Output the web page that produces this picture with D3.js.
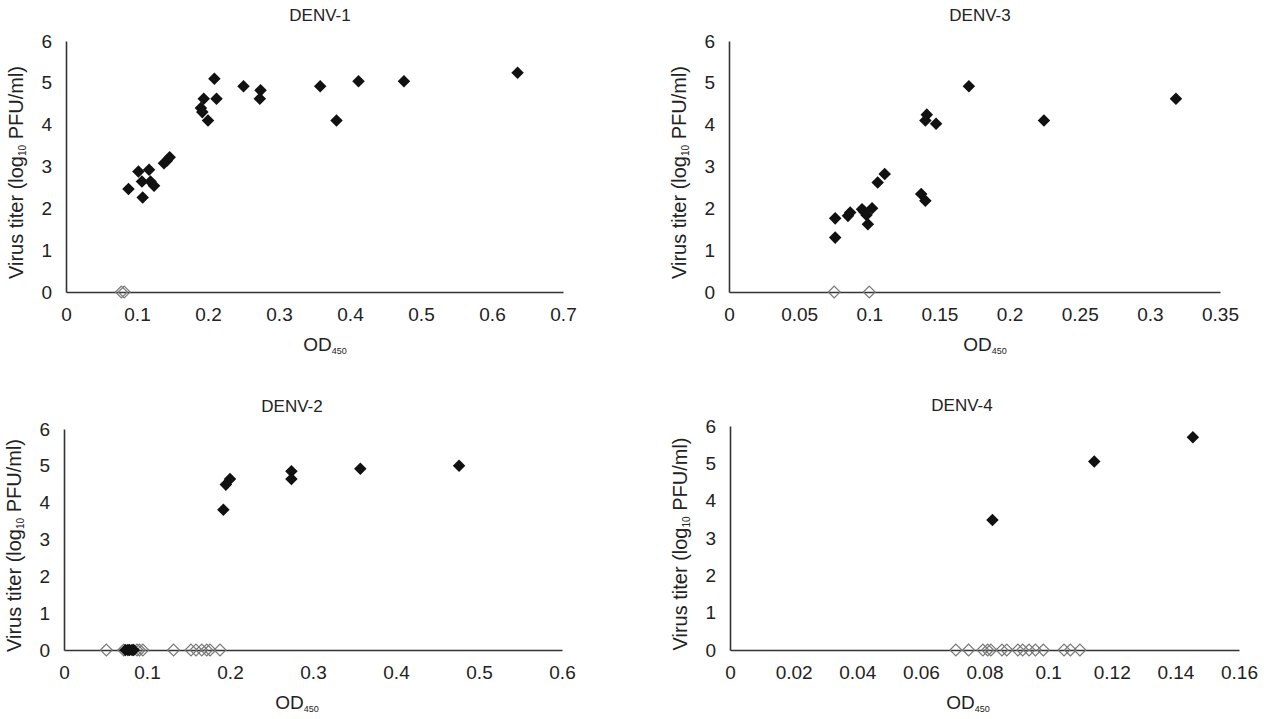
<!DOCTYPE html>
<html>
<head>
<meta charset="utf-8">
<script src="https://cdn.jsdelivr.net/npm/d3@7"></script>
<style>
  body { margin: 0; background: #fff; }
  text { font-family: "Liberation Sans", Arial, sans-serif; fill: #222; }
</style>
</head>
<body>
<svg id="chart" width="1271" height="719"></svg>
<script>
// values: [OD450, log10 PFU/ml]
const denv1Pos = [
  [0.088, 2.46], [0.102, 2.88], [0.117, 2.92], [0.107, 2.64], [0.119, 2.64],
  [0.124, 2.54], [0.108, 2.26], [0.138, 3.08], [0.142, 3.14], [0.146, 3.22],
  [0.194, 4.62], [0.212, 4.62], [0.209, 5.10], [0.190, 4.40], [0.192, 4.30],
  [0.200, 4.10], [0.250, 4.92], [0.274, 4.82], [0.273, 4.62], [0.358, 4.92],
  [0.381, 4.10], [0.412, 5.04], [0.476, 5.04], [0.636, 5.24]
];
const denv1Neg = [[0.078, 0], [0.082, 0]];

const denv3Pos = [
  [0.171, 4.92], [0.3186, 4.62], [0.2245, 4.10], [0.141, 4.24], [0.140, 4.10],
  [0.1476, 4.02], [0.111, 2.82], [0.106, 2.62], [0.137, 2.34], [0.140, 2.18],
  [0.0757, 1.76], [0.0757, 1.30], [0.0848, 1.82], [0.0864, 1.90], [0.0948, 1.98],
  [0.102, 2.00], [0.098, 1.84], [0.099, 1.62], [0.0964, 1.92]
];
const denv3Neg = [[0.075, 0], [0.100, 0]];

const denv2Pos = [
  [0.192, 3.81], [0.195, 4.49], [0.200, 4.64], [0.274, 4.85], [0.274, 4.64],
  [0.357, 4.92], [0.476, 5.00],
  [0.074, 0], [0.077, 0], [0.079, 0], [0.082, 0], [0.084, 0]
];
const denv2Neg = [
  [0.051, 0], [0.072, 0], [0.088, 0], [0.091, 0], [0.095, 0], [0.132, 0],
  [0.153, 0], [0.159, 0], [0.166, 0], [0.172, 0], [0.176, 0], [0.188, 0]
];

const denv4Pos = [[0.0825, 3.48], [0.1145, 5.05], [0.1455, 5.70]];
const denv4Neg = [
  [0.071, 0], [0.075, 0], [0.0795, 0], [0.081, 0], [0.082, 0], [0.0855, 0],
  [0.087, 0], [0.0905, 0], [0.092, 0], [0.094, 0], [0.096, 0], [0.0985, 0],
  [0.105, 0], [0.107, 0], [0.110, 0]
];

const yTicks = [0, 1, 2, 3, 4, 5, 6];
const denv1XTicks = [0, 0.1, 0.2, 0.3, 0.4, 0.5, 0.6, 0.7];
const denv3XTicks = [0, 0.05, 0.1, 0.15, 0.2, 0.25, 0.3, 0.35];
const denv2XTicks = [0, 0.1, 0.2, 0.3, 0.4, 0.5, 0.6];
const denv4XTicks = [0, 0.02, 0.04, 0.06, 0.08, 0.1, 0.12, 0.14, 0.16];

const panels = [
  { title: "DENV-1", pos: denv1Pos, neg: denv1Neg, xTicks: denv1XTicks,
    x0: 66, x1: 563, y0: 292, y1: 41, titleX: 320, titleY: 21, labelX: 325 },
  { title: "DENV-3", pos: denv3Pos, neg: denv3Neg, xTicks: denv3XTicks,
    x0: 729, x1: 1220, y0: 292, y1: 41, titleX: 980, titleY: 21, labelX: 985 },
  { title: "DENV-2", pos: denv2Pos, neg: denv2Neg, xTicks: denv2XTicks,
    x0: 64, x1: 562, y0: 650, y1: 429, titleX: 292, titleY: 412, labelX: 297 },
  { title: "DENV-4", pos: denv4Pos, neg: denv4Neg, xTicks: denv4XTicks,
    x0: 730, x1: 1239, y0: 650, y1: 426, titleX: 962, titleY: 411, labelX: 968 }
];

const svg = d3.select("#chart");
const diamond = d3.symbol().type(d3.symbolDiamond2);

panels.forEach((p) => {
  const g = svg.append("g");

  const x = d3.scaleLinear()
    .domain([0, d3.max(p.xTicks)])
    .range([p.x0, p.x1]);
  const y = d3.scaleLinear()
    .domain([0, 6])
    .range([p.y0, p.y1]);

  const xAxis = d3.axisBottom(x).tickValues(p.xTicks).tickSize(0).tickPadding(16)
    .tickFormat((d) => String(+d.toFixed(2)));
  const yAxis = d3.axisLeft(y).tickValues(yTicks).tickSize(0).tickPadding(14)
    .tickFormat(d3.format("d"));

  g.append("g")
    .attr("transform", `translate(0, ${p.y0})`)
    .call(xAxis)
    .call((a) => a.select(".domain").attr("stroke", "#333").attr("stroke-width", 1.6))
    .selectAll("text").attr("font-size", 19).attr("fill", "#222");

  g.append("g")
    .attr("transform", `translate(${p.x0}, 0)`)
    .call(yAxis)
    .call((a) => a.select(".domain").attr("stroke", "#333").attr("stroke-width", 1.6))
    .selectAll("text").attr("font-size", 19).attr("fill", "#222");

  // negatives: open grey diamonds
  g.append("g").selectAll("path")
    .data(p.neg)
    .join("path")
    .attr("d", diamond.size(90))
    .attr("transform", (d) => `translate(${x(d[0])}, ${y(d[1])})`)
    .attr("fill", "none")
    .attr("stroke", "#777")
    .attr("stroke-width", 1.2);

  // positives: filled black diamonds
  g.append("g").selectAll("path")
    .data(p.pos)
    .join("path")
    .attr("d", diamond.size(100))
    .attr("transform", (d) => `translate(${x(d[0])}, ${y(d[1])})`)
    .attr("fill", "#111");

  g.append("text")
    .attr("x", p.titleX)
    .attr("y", p.titleY)
    .attr("text-anchor", "middle")
    .attr("font-size", 17)
    .text(p.title);

  const od = g.append("text")
    .attr("x", p.labelX)
    .attr("y", p.y0 + 59)
    .attr("text-anchor", "middle")
    .attr("font-size", 19);
  od.append("tspan").text("OD");
  od.append("tspan").attr("font-size", 9).attr("dy", 3).text("450");

  const yl = g.append("text")
    .attr("transform", `translate(${p.x0 - 43}, ${(p.y0 + p.y1) / 2 + 6}) rotate(-90)`)
    .attr("text-anchor", "middle")
    .attr("font-size", 20);
  yl.append("tspan").text("Virus titer (log");
  yl.append("tspan").attr("font-size", 10).attr("dy", 3).text("10");
  yl.append("tspan").attr("dy", -3).text(" PFU/ml)");
});
</script>
</body>
</html>
